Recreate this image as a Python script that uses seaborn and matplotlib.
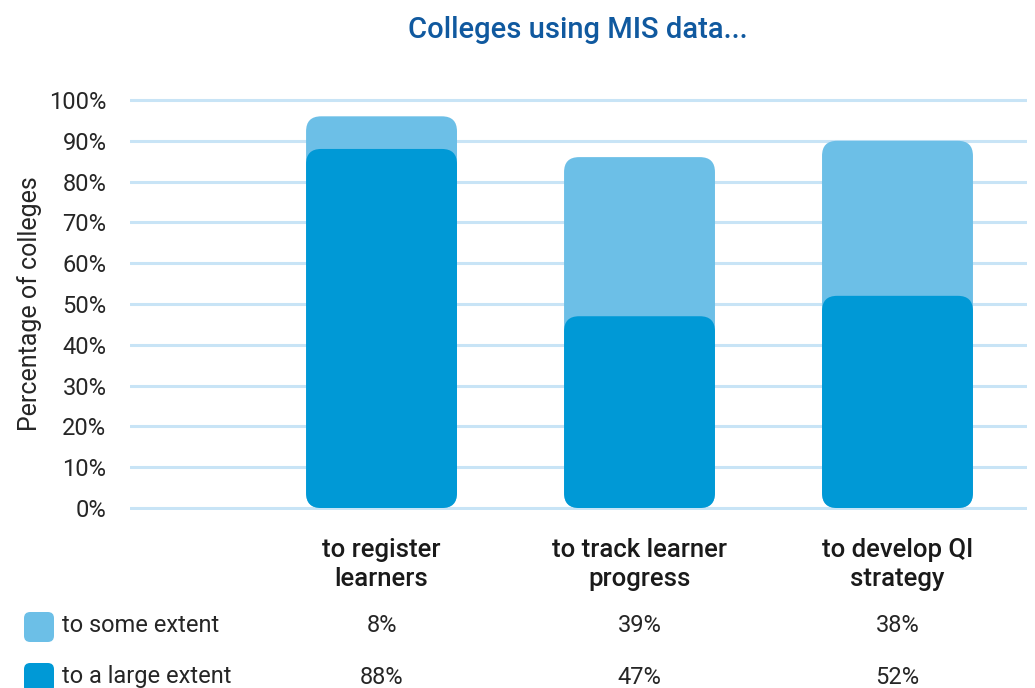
import matplotlib
matplotlib.use("Agg")
import matplotlib.pyplot as plt
from matplotlib.patches import FancyBboxPatch
import pandas as pd
import seaborn as sns

# data
categories = ["to register\nlearners", "to track learner\nprogress", "to develop QI\nstrategy"]
some_extent = [8, 39, 38]
large_extent = [88, 47, 52]
series_names = ["to some extent", "to a large extent"]

light = "#6cbfe7"
dark = "#0099d6"
grid_col = "#c8e4f6"
text_col = "#262626"
title_col = "#10599f"

df = pd.DataFrame({"cat": categories, "some": some_extent, "large": large_extent})
df["total"] = df["some"] + df["large"]

sns.set_theme(style="white")
plt.rcParams["font.family"] = ["Roboto", "DejaVu Sans"]

W, H = 1035, 688
px_y = 408 / 100          # pixels per percent
pad = 0.6                 # keep the 0% / 100% gridlines inside the axes
top = 100 - pad * px_y
bot = 508 + pad * px_y
fig = plt.figure(figsize=(W / 100, H / 100), dpi=100)
ax = fig.add_axes([130 / W, 1 - bot / H, 897 / W, (bot - top) / H])

bw = 0.585
# total bar (light) behind, large extent (dark) on top
sns.barplot(data=df, x="cat", y="total", color=light, width=bw, saturation=1, ax=ax)
sns.barplot(data=df, x="cat", y="large", color=dark, width=bw, saturation=1, ax=ax)

ax.set_xlim(-0.975, 2.502)
ax.set_ylim(-pad, 100 + pad)

# swap plain rectangles for rounded ones
px_x = 897 / (2.502 + 0.975)
r = 15 / px_x
for p in list(ax.patches):
    x, y = p.get_x(), p.get_y()
    w, h = p.get_width(), p.get_height()
    fc = p.get_facecolor()
    p.remove()
    ax.add_patch(FancyBboxPatch((x, y), w, h,
                                boxstyle=f"round,pad=0,rounding_size={r}",
                                mutation_aspect=px_x / px_y,
                                fc=fc, ec="none", zorder=2))

fs = 17
ax.set_yticks(range(0, 101, 10))
ax.set_yticklabels([f"{v}%" for v in range(0, 101, 10)], color=text_col, fontsize=fs)
ax.yaxis.grid(True, color=grid_col, lw=2.2)
ax.set_axisbelow(True)
ax.tick_params(axis="y", length=0, pad=17)
ax.tick_params(axis="x", length=0, pad=20)
ax.set_xticks(range(len(categories)))
ax.set_xticklabels(categories, fontsize=18.5, fontweight="medium", color="#1a1a1a",
                   linespacing=1.25)
ax.set_xlabel("")
ax.set_ylabel("Percentage of colleges", fontsize=18, color=text_col)
ax.yaxis.set_label_coords(-0.098, 0.5)
sns.despine(ax=ax, left=True, bottom=True)

fig.text(578 / W, 1 - 30 / H, "Colleges using MIS data...", ha="center", va="center",
         fontsize=21, fontweight="medium", color=title_col)

# table rows below the chart
rows = [some_extent, large_extent]
cols = [light, dark]
row_y = [626, 677]
for name, vals, c, yy in zip(series_names, rows, cols, row_y):
    fig.text(62 / W, 1 - yy / H, name, ha="left", va="center", fontsize=fs,
             color=text_col)
    fig.patches.append(FancyBboxPatch((24 / W, 1 - (yy + 16) / H), 30 / W, 30 / H,
                                      boxstyle="round,pad=0,rounding_size=0.006",
                                      mutation_aspect=W / H, transform=fig.transFigure,
                                      fc=c, ec="none", figure=fig))
    for i, v in enumerate(vals):
        ax.text(i, -(yy - 508) / px_y, f"{v}%", ha="center", va="center",
                fontsize=fs, color=text_col, clip_on=False)

fig.savefig("out.png", dpi=100)
